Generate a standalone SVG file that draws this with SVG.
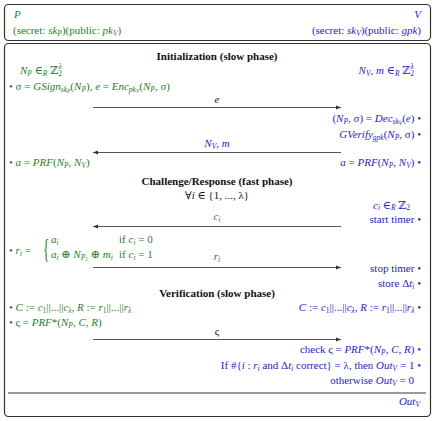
<svg xmlns="http://www.w3.org/2000/svg" width="435" height="421" viewBox="0 0 435 421">
<style>
text{font-family:"Liberation Serif","DejaVu Serif",serif;font-size:11px}
.g{fill:#1f7d1f}
.b{fill:#2424c8}
.k{fill:#111}
.h{font-weight:bold;text-anchor:middle}
.m{text-anchor:middle}
.e{text-anchor:end}
.i{font-style:italic}
.s{font-size:7.5px}
.ss{font-size:5.5px}
.box{fill:#fff;stroke:#333;stroke-width:1.2}
.arr{stroke:#444;stroke-width:0.9;fill:none;marker-end:url(#ah)}
</style>
<defs>
<marker id="ah" markerWidth="6" markerHeight="6" refX="5" refY="3" orient="auto" markerUnits="userSpaceOnUse">
<path d="M0,1 L5,3 L0,5 Z" fill="#333"/>
</marker>
</defs>
<rect width="435" height="421" fill="#fff"/>
<g id="parties">
<rect class="box" x="4.5" y="4.5" width="426" height="36" rx="4"/>
<text class="g i" x="14" y="18">P</text>
<text class="g" x="13" y="34">(secret: <tspan class="i">sk</tspan><tspan class="s i" dy="2">P</tspan><tspan dy="-2">)(public: </tspan><tspan class="i">pk</tspan><tspan class="s i" dy="2">V</tspan><tspan dy="-2">)</tspan></text>
<text class="b i e" x="421" y="18">V</text>
<text class="b e" x="421" y="34">(secret: <tspan class="i">sk</tspan><tspan class="s i" dy="2">V</tspan><tspan dy="-2">)(public: </tspan><tspan class="i">gpk</tspan>)</text>
</g>
<g id="protocol">
<rect class="box" x="4.5" y="43.5" width="426" height="373" rx="4"/>
</g>
<g id="init">
<text class="k h" x="217" y="60">Initialization (slow phase)</text>
<text class="g" x="20" y="74"><tspan class="i">N</tspan><tspan class="s i" dy="2">P</tspan><tspan dy="-2"> ∈</tspan><tspan class="s i" dy="2">R</tspan><tspan dy="-2"> ℤ</tspan><tspan class="s" dy="2">2</tspan><tspan class="s i" dx="-3.5" dy="-7">λ</tspan></text>
<text class="b e" x="414" y="74"><tspan class="i">N</tspan><tspan class="s i" dy="2">V</tspan><tspan dy="-2">, </tspan><tspan class="i">m</tspan> ∈<tspan class="s i" dy="2">R</tspan><tspan dy="-2"> ℤ</tspan><tspan class="s" dy="2">2</tspan><tspan class="s i" dx="-3.5" dy="-7">λ</tspan></text>
<text class="g" x="9" y="90">• σ = <tspan class="i">GSign</tspan><tspan class="s i" dy="2">sk</tspan><tspan class="ss i" dy="1">P</tspan><tspan dy="-3">(</tspan><tspan class="i">N</tspan><tspan class="s i" dy="2">P</tspan><tspan dy="-2">), </tspan><tspan class="i">e</tspan> = <tspan class="i">Enc</tspan><tspan class="s i" dy="2">pk</tspan><tspan class="ss i" dy="1">V</tspan><tspan dy="-3">(</tspan><tspan class="i">N</tspan><tspan class="s i" dy="2">P</tspan><tspan dy="-2">, σ)</tspan></text>
<text class="k i m" x="217" y="103">e</text>
<text class="b e" x="421" y="122">(<tspan class="i">N</tspan><tspan class="s i" dy="2">P</tspan><tspan dy="-2">, σ) = </tspan><tspan class="i">Dec</tspan><tspan class="s i" dy="2">sk</tspan><tspan class="ss i" dy="1">V</tspan><tspan dy="-3">(</tspan><tspan class="i">e</tspan>) •</text>
<text class="b e" x="421" y="138"><tspan class="i">GVerify</tspan><tspan class="s i" dy="2">gpk</tspan><tspan dy="-2">(</tspan><tspan class="i">N</tspan><tspan class="s i" dy="2">P</tspan><tspan dy="-2">, σ) •</tspan></text>
<text class="b m" x="217" y="147"><tspan class="i">N</tspan><tspan class="s i" dy="2">V</tspan><tspan dy="-2">, </tspan><tspan class="i">m</tspan></text>
<text class="g" x="9" y="166">• <tspan class="i">a</tspan> = <tspan class="i">PRF</tspan>(<tspan class="i">N</tspan><tspan class="s i" dy="2">P</tspan><tspan dy="-2">, </tspan><tspan class="i">N</tspan><tspan class="s i" dy="2">V</tspan><tspan dy="-2">)</tspan></text>
<text class="b e" x="421" y="166"><tspan class="i">a</tspan> = <tspan class="i">PRF</tspan>(<tspan class="i">N</tspan><tspan class="s i" dy="2">P</tspan><tspan dy="-2">, </tspan><tspan class="i">N</tspan><tspan class="s i" dy="2">V</tspan><tspan dy="-2">) •</tspan></text>
</g>
<g id="fast">
<text class="k h" x="217" y="185">Challenge/Response (fast phase)</text>
<text class="k m" x="217" y="199">∀<tspan class="i">i</tspan> ∈ {1, ..., λ}</text>
<text class="b e" x="410" y="208.5"><tspan class="i">c</tspan><tspan class="s i" dy="1.5">i</tspan><tspan dy="-1.5"> ∈</tspan><tspan class="s i" dy="1.5">R</tspan><tspan dy="-1.5"> ℤ</tspan><tspan class="s" dy="1.5">2</tspan></text>
<text class="b e" x="421" y="222.5">start timer •</text>
<text class="g m" x="217" y="220"><tspan class="i">c</tspan><tspan class="s i" dy="2">i</tspan></text>
<text class="g" x="9" y="254">• <tspan class="i">r</tspan><tspan class="s i" dy="2">i</tspan><tspan dy="-2"> =</tspan></text>
<text class="g" transform="translate(43,258) scale(1,2.1)" style="font-size:13px">{</text>
<text class="g" x="51" y="243"><tspan class="i">a</tspan><tspan class="s i" dy="2">i</tspan></text>
<text class="g" x="119" y="243">if <tspan class="i">c</tspan><tspan class="s i" dy="2">i</tspan><tspan dy="-2"> = 0</tspan></text>
<text class="g" x="51" y="258"><tspan class="i">a</tspan><tspan class="s i" dy="2">i</tspan><tspan dy="-2"> ⊕ </tspan><tspan class="i">N</tspan><tspan class="s i" dy="2">P</tspan><tspan class="ss i" dy="1">1</tspan><tspan dy="-3"> ⊕ </tspan><tspan class="i">m</tspan><tspan class="s i" dy="2">i</tspan></text>
<text class="g" x="119" y="258">if <tspan class="i">c</tspan><tspan class="s i" dy="2">i</tspan><tspan dy="-2"> = 1</tspan></text>
<text class="g m" x="217" y="260"><tspan class="i">r</tspan><tspan class="s i" dy="2">i</tspan></text>
<text class="b e" x="421" y="272">stop timer •</text>
<text class="b e" x="421" y="287">store Δ<tspan class="i">t</tspan><tspan class="s i" dy="2">i</tspan><tspan dy="-2"> •</tspan></text>
</g>
<g id="verify">
<text class="k h" x="217" y="297">Verification (slow phase)</text>
<text class="g" x="9" y="311">• <tspan class="i">C</tspan> := <tspan class="i">c</tspan><tspan class="s" dy="2">1</tspan><tspan dy="-2">||...||</tspan><tspan class="i">c</tspan><tspan class="s i" dy="2">λ</tspan><tspan dy="-2">, </tspan><tspan class="i">R</tspan> := <tspan class="i">r</tspan><tspan class="s" dy="2">1</tspan><tspan dy="-2">||...||</tspan><tspan class="i">r</tspan><tspan class="s i" dy="2">λ</tspan></text>
<text class="b e" x="421" y="311"><tspan class="i">C</tspan> := <tspan class="i">c</tspan><tspan class="s" dy="2">1</tspan><tspan dy="-2">||...||</tspan><tspan class="i">c</tspan><tspan class="s i" dy="2">λ</tspan><tspan dy="-2">, </tspan><tspan class="i">R</tspan> := <tspan class="i">r</tspan><tspan class="s" dy="2">1</tspan><tspan dy="-2">||...||</tspan><tspan class="i">r</tspan><tspan class="s i" dy="2">λ</tspan><tspan dy="-2"> •</tspan></text>
<text class="g" x="9" y="326">• ς = <tspan class="i">PRF</tspan>*(<tspan class="i">N</tspan><tspan class="s i" dy="2">P</tspan><tspan dy="-2">, </tspan><tspan class="i">C</tspan>, <tspan class="i">R</tspan>)</text>
<text class="k m" x="217" y="335">ς</text>
<text class="b e" x="421" y="353">check ς = <tspan class="i">PRF</tspan>*(<tspan class="i">N</tspan><tspan class="s i" dy="2">P</tspan><tspan dy="-2">, </tspan><tspan class="i">C</tspan>, <tspan class="i">R</tspan>) •</text>
<text class="b e" x="421" y="369">If #{<tspan class="i">i</tspan> : <tspan class="i">r</tspan><tspan class="s i" dy="2">i</tspan><tspan dy="-2"> and Δ</tspan><tspan class="i">t</tspan><tspan class="s i" dy="2">i</tspan><tspan dy="-2"> correct} = λ, then </tspan><tspan class="i">Out</tspan><tspan class="s i" dy="2">V</tspan><tspan dy="-2"> = 1 •</tspan></text>
<text class="b e" x="414" y="384">otherwise <tspan class="i">Out</tspan><tspan class="s i" dy="2">V</tspan><tspan dy="-2"> = 0</tspan></text>
<line x1="8" y1="393" x2="426" y2="393" stroke="#333" stroke-width="1.2"/>
<text class="b e" x="420" y="405"><tspan class="i">Out</tspan><tspan class="s i" dy="2">V</tspan></text>
</g>
<g id="connectors">
<line class="arr" x1="93" y1="107.5" x2="341" y2="107.5"/>
<line class="arr" x1="341" y1="152.5" x2="93" y2="152.5"/>
<line class="arr" x1="341" y1="226.5" x2="93" y2="226.5"/>
<line class="arr" x1="93" y1="267.5" x2="341" y2="267.5"/>
<line class="arr" x1="93" y1="339.5" x2="341" y2="339.5"/>
</g>
</svg>
